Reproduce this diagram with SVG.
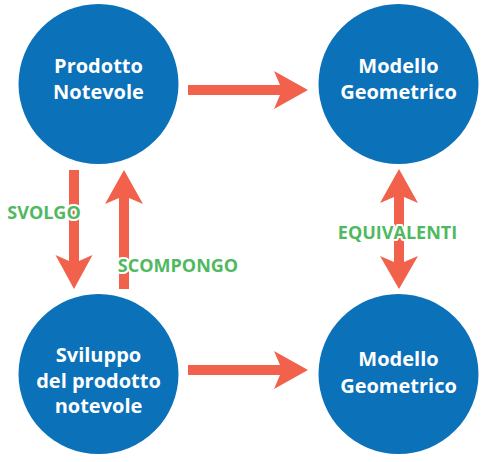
<svg xmlns="http://www.w3.org/2000/svg" width="492" height="462" viewBox="0 0 492 462">
<style>
.node circle{fill:#0b71b9}
.node text{font-family:"Open Sans","Liberation Sans",sans-serif;font-weight:bold;font-size:20px;fill:#fff;text-anchor:middle}
.arr{fill:#f1614b}
.lbl{font-family:"Open Sans","Liberation Sans",sans-serif;font-weight:bold;font-size:18px;fill:#4fb95f;text-anchor:middle;stroke:#fff;stroke-width:4;paint-order:stroke;stroke-linejoin:round}
</style>
<rect width="492" height="462" fill="#fff"/>
<g id="n1" class="node"><circle cx="98.5" cy="84" r="80"/><text x="98.5" y="73">Prodotto</text><text x="98.5" y="99">Notevole</text></g>
<g id="n2" class="node"><circle cx="398.5" cy="84" r="80"/><text x="398.5" y="73">Modello</text><text x="398.5" y="99">Geometrico</text></g>
<g id="n3" class="node"><circle cx="98.5" cy="374" r="80"/><text x="98.5" y="362">Sviluppo</text><text x="98.5" y="388">del prodotto</text><text x="98.5" y="413">notevole</text></g>
<g id="n4" class="node"><circle cx="398.5" cy="374" r="80"/><text x="398.5" y="366">Modello</text><text x="398.5" y="393">Geometrico</text></g>
<g id="connectors">
<path class="arr" d="M188,85 H280 L274,71 L308,90 L274,109 L280,95 H188 Z"/>
<path class="arr" d="M188,365 H280 L274,351 L308,370 L274,389 L280,375 H188 Z"/>
<path class="arr" d="M69,170 V261 L55.5,255 L74,289 L92.5,255 L79,261 V170 Z"/>
<path class="arr" d="M119,289 V198 L105,204 L124,170 L143,204 L129,198 V289 Z"/>
<path class="arr" d="M394,197 L380,203 L399,169 L418,203 L404,197 V262 L418,256 L399,289 L380,256 L394,262 Z"/>
<text class="lbl" x="44" y="219">SVOLGO</text>
<text class="lbl" x="178" y="272">SCOMPONGO</text>
<text class="lbl" x="397.5" y="239">EQUIVALENTI</text>
</g>
</svg>
